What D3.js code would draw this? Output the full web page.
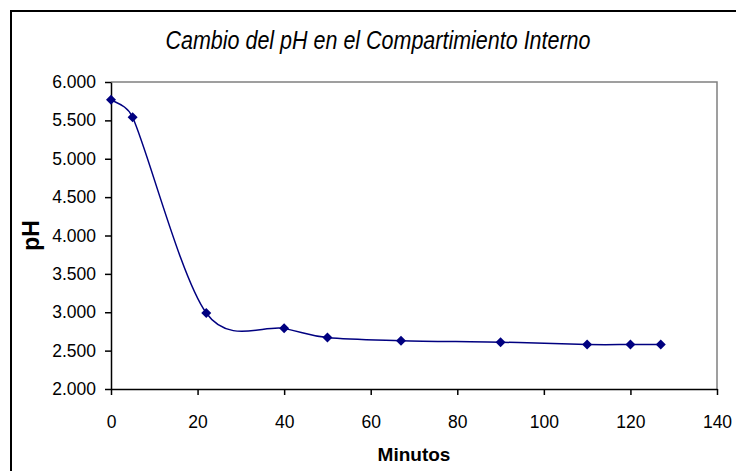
<!DOCTYPE html>
<html>
<head>
<meta charset="utf-8">
<script src="https://cdn.jsdelivr.net/npm/d3@7"></script>
<style>
  html, body { margin: 0; padding: 0; background: #fff; }
  svg { display: block; font-family: "Liberation Sans", Arial, sans-serif; }
</style>
</head>
<body>
<div id="chart"></div>
<script>
// data
const minutos = [0, 5, 22, 40, 50, 67, 90, 110, 120, 127];
const phValues = [5.77, 5.54, 2.99, 2.79, 2.67, 2.63, 2.61, 2.58, 2.58, 2.58];
const xTicks = [0, 20, 40, 60, 80, 100, 120, 140];
const yTicks = [2, 2.5, 3, 3.5, 4, 4.5, 5, 5.5, 6];
const title = "Cambio del pH en el Compartimiento Interno";
const xTitle = "Minutos";
const yTitle = "pH";

const w = 736, h = 471;
const padL = 111, padR = 717, padT = 82, padB = 389;

// Excel style smoothing: catmull-rom arms, capped at half the segment
const excelCurve = context => {
  let pts = [];
  return {
    areaStart() {}, areaEnd() {},
    lineStart() { pts = []; },
    point(x, y) { pts.push([+x, +y]); },
    lineEnd() {
      if (!pts.length) return;
      context.moveTo(pts[0][0], pts[0][1]);
      const dist = (a, b) => Math.hypot(b[0] - a[0], b[1] - a[1]);
      for (let i = 0; i < pts.length - 1; i++) {
        const p0 = pts[i - 1] || pts[i], p1 = pts[i], p2 = pts[i + 1], p3 = pts[i + 2] || pts[i + 1];
        const seg = dist(p1, p2);
        const d02 = dist(p0, p2), d13 = dist(p1, p3);
        const a1 = d02 ? Math.min(d02 / 6, seg / 2) / d02 : 0;
        const a2 = d13 ? Math.min(d13 / 6, seg / 2) / d13 : 0;
        context.bezierCurveTo(
          p1[0] + (p2[0] - p0[0]) * a1, p1[1] + (p2[1] - p0[1]) * a1,
          p2[0] - (p3[0] - p1[0]) * a2, p2[1] - (p3[1] - p1[1]) * a2,
          p2[0], p2[1]);
      }
    }
  };
};

const svg = d3.select("#chart").append("svg")
  .attr("width", w).attr("height", h);

// outer chart border (runs past the window edge)
svg.append("rect")
  .attr("x", 11).attr("y", 11)
  .attr("width", 760).attr("height", 500)
  .attr("fill", "#fff")
  .attr("stroke", "#000").attr("stroke-width", 2);

const x = d3.scaleLinear().domain([0, 140]).range([padL, padR]);
const y = d3.scaleLinear().domain([2, 6]).range([padB, padT]);

// plot area frame (grey top and right)
svg.append("path")
  .attr("d", `M${padL},${padT}H${padR}V${padB}`)
  .attr("fill", "none")
  .attr("stroke", "#808080").attr("stroke-width", 1.5);

const xAxis = svg.append("g")
  .attr("transform", `translate(0,${padB})`)
  .call(d3.axisBottom(x).tickValues(xTicks).tickSize(6).tickPadding(21).tickSizeOuter(0).tickFormat(d3.format("d")));

const yAxis = svg.append("g")
  .attr("transform", `translate(${padL},0)`)
  .call(d3.axisLeft(y).tickValues(yTicks).tickSize(6).tickPadding(9).tickSizeOuter(0).tickFormat(d3.format(".3f")));

[xAxis, yAxis].forEach(g => {
  g.select(".domain").attr("stroke", "#000").attr("stroke-width", 1.5);
  g.selectAll(".tick line").attr("stroke", "#000").attr("stroke-width", 1.5);
  g.selectAll(".tick text")
    .attr("fill", "#000")
    .style("font-family", "'Liberation Sans', Arial, sans-serif")
    .style("font-size", "17.5px");
});

const pts = minutos.map((m, i) => [m, phValues[i]]);
const line = d3.line()
  .x(d => x(d[0]))
  .y(d => y(d[1]))
  .curve(excelCurve);

svg.append("path")
  .datum(pts)
  .attr("d", line)
  .attr("fill", "none")
  .attr("stroke", "#000080")
  .attr("stroke-width", 1.5);

svg.selectAll("path.marker")
  .data(pts)
  .enter()
  .append("path")
  .attr("class", "marker")
  .attr("d", "M0,-5L5,0L0,5L-5,0Z")
  .attr("transform", d => `translate(${x(d[0])},${y(d[1])})`)
  .attr("fill", "#000080");

// title
svg.append("text")
  .attr("x", 378).attr("y", 49)
  .attr("text-anchor", "middle")
  .attr("font-style", "italic")
  .attr("font-size", 26)
  .attr("textLength", 425)
  .attr("lengthAdjust", "spacingAndGlyphs")
  .text(title);

svg.append("text")
  .attr("x", (padL + padR) / 2).attr("y", 461)
  .attr("text-anchor", "middle")
  .attr("font-weight", "bold")
  .attr("font-size", 19)
  .text(xTitle);

svg.append("text")
  .attr("transform", `translate(39,${(padT + padB) / 2}) rotate(-90)`)
  .attr("text-anchor", "middle")
  .attr("font-weight", "bold")
  .attr("font-size", 23)
  .text(yTitle);
</script>
</body>
</html>
